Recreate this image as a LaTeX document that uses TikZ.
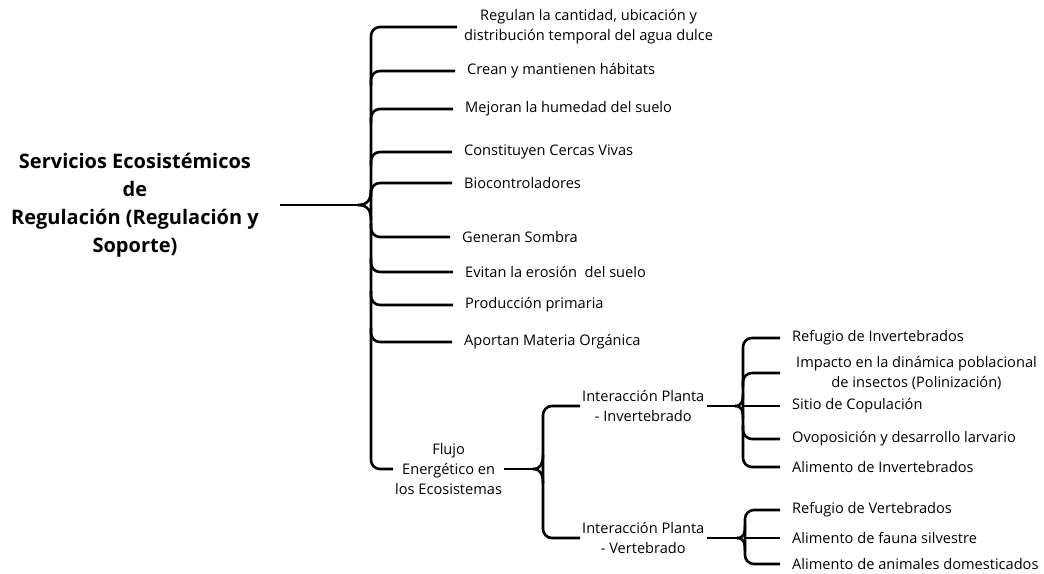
\documentclass[tikz,border=0pt]{standalone}
\usepackage{fontspec}
\setmainfont{Open Sans}
\begin{document}
\begin{tikzpicture}[x=1pt, y=-1pt, every node/.style={font=\fontsize{14.6}{20}\selectfont}]
\tikzstyle{rama}=[line width=2.6pt, rounded corners=9pt]
\tikzstyle{fina}=[line width=1.4pt]
\tikzstyle{hoja}=[anchor=west, inner xsep=12pt, inner ysep=1pt, align=left]
\tikzstyle{grupo}=[inner xsep=2pt, inner ysep=1pt, align=center]
\useasboundingbox (0,0) rectangle (1044,573);
\node[anchor=east, inner xsep=21pt, align=center, font=\fontsize{20}{28}\selectfont\bfseries] (serv) at (280,205) {Servicios Ecosistémicos\\de\\Regulación (Regulación y\\Soporte)};
\node[hoja, inner xsep=7pt, align=center] (r1) at (457,27) {Regulan la cantidad, ubicación y\\distribución temporal del agua dulce};
\node[hoja] (r2) at (455,71) {Crean y mantienen hábitats};
\node[hoja] (r3) at (453,109) {Mejoran la humedad del suelo};
\node[hoja] (r4) at (452,152) {Constituyen Cercas Vivas};
\node[hoja] (r5) at (452,183) {Biocontroladores};
\node[hoja] (r6) at (450,237) {Generan Sombra};
\node[hoja] (r7) at (453,272) {Evitan la erosión\ \ del suelo};
\node[hoja] (r8) at (453,305) {Producción primaria};
\node[hoja] (r9) at (452,342) {Aportan Materia Orgánica};
\node[grupo, anchor=west] (flujo) at (393,469) {Flujo\\Energético en\\los Ecosistemas};
\node[grupo, anchor=west] (inv) at (580,406) {Interacción Planta\\- Invertebrado};
\node[grupo, anchor=west] (vert) at (580,538) {Interacción Planta\\- Vertebrado};
\node[hoja] (ri1) at (780,338) {Refugio de Invertebrados};
\node[hoja, inner xsep=16pt, align=center] (ri2) at (780,373) {Impacto en la dinámica poblacional\\de insectos (Polinización)};
\node[hoja] (ri3) at (780,406) {Sitio de Copulación};
\node[hoja] (ri4) at (780,439) {Ovoposición y desarrollo larvario};
\node[hoja] (ri5) at (780,467) {Alimento de Invertebrados};
\node[hoja] (rv1) at (780,510) {Refugio de Vertebrados};
\node[hoja] (rv2) at (780,538) {Alimento de fauna silvestre};
\node[hoja] (rv3) at (780,564) {Alimento de animales domesticados};
\coordinate (nudo) at (358,205);
\coordinate (eje) at (371,205);
\coordinate (nudo2) at (533,469);
\coordinate (eje2) at (543,469);
\coordinate (nudo3) at (735,406);
\coordinate (eje3) at (743,406);
\coordinate (nudo4) at (737,538);
\coordinate (eje4) at (745,538);
\draw[rama] (serv.east) -- (nudo);
\draw[rama] (nudo) .. controls +(10,0) and +(0,9) .. ++(13,-15);
\draw[rama] (nudo) .. controls +(10,0) and +(0,-9) .. ++(13,15);
\draw[rama] (r1.west) -- (r1.west -| eje) -- (flujo.west -| eje) -- (flujo.west);
\foreach \n in {r2,r3,r4,r5} \draw[rama] (\n.west) -- (\n.west -| eje) -- ++(0,14);
\foreach \n in {r6,r7,r8,r9} \draw[rama] (\n.west) -- (\n.west -| eje) -- ++(0,-14);
\draw[rama] (flujo.east) -- (nudo2);
\draw[rama] (nudo2) .. controls +(8,0) and +(0,8) .. ++(10,-14);
\draw[rama] (nudo2) .. controls +(8,0) and +(0,-8) .. ++(10,14);
\draw[rama] (inv.west) -- (inv.west -| eje2) -- (vert.west -| eje2) -- (vert.west);
\draw[rama] (inv.east) -- (nudo3);
\draw[rama] (nudo3) .. controls +(7,0) and +(0,7) .. ++(8,-12);
\draw[rama] (nudo3) .. controls +(7,0) and +(0,-7) .. ++(8,12);
\draw[rama] (ri1.west) -- (ri1.west -| eje3) -- (ri5.west -| eje3) -- (ri5.west);
\draw[rama] (ri2.west) -- (ri2.west -| eje3) -- ++(0,14);
\draw[rama] (ri4.west) -- (ri4.west -| eje3) -- ++(0,-14);
\draw[fina] (eje3) -- (ri3.west);
\draw[rama] (vert.east) -- (nudo4);
\draw[rama] (nudo4) .. controls +(7,0) and +(0,7) .. ++(8,-12);
\draw[rama] (nudo4) .. controls +(7,0) and +(0,-7) .. ++(8,12);
\draw[rama] (rv1.west) -- (rv1.west -| eje4) -- (rv3.west -| eje4) -- (rv3.west);
\draw[fina] (eje4) -- (rv2.west);
\end{tikzpicture}
\end{document}
